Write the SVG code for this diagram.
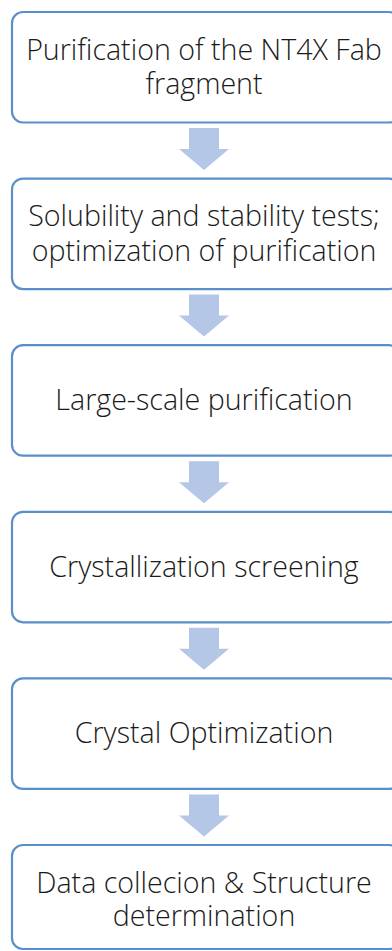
<svg xmlns="http://www.w3.org/2000/svg" width="392" height="951" viewBox="0 0 392 951">
<style>
.box{fill:#fff;stroke:#5B8FCA;stroke-width:2.2}
.t{font-family:"Open Sans","Liberation Sans",sans-serif;font-weight:300;font-size:28.6px;fill:#1a1a1a;text-anchor:middle}
.arr{fill:#B4C7E7}
</style>
<rect width="392" height="951" fill="#fff"/>
<g id="connectors">
<polygon class="arr" points="189,128 219,128 219,149 229,149 204,170 179,149 189,149"/>
<polygon class="arr" points="189,294.6 219,294.6 219,315.6 229,315.6 204,336.6 179,315.6 189,315.6"/>
<polygon class="arr" points="189,461.2 219,461.2 219,482.2 229,482.2 204,503.2 179,482.2 189,482.2"/>
<polygon class="arr" points="189,627.8 219,627.8 219,648.8 229,648.8 204,669.8 179,648.8 189,648.8"/>
<polygon class="arr" points="189,794.4 219,794.4 219,815.4 229,815.4 204,836.4 179,815.4 189,815.4"/>
</g>
<g id="n1"><rect class="box" x="12" y="12" width="388" height="110.5" rx="11"/>
<text class="t" x="204" y="59.5">Purification of the NT4X Fab</text>
<text class="t" x="204" y="94">fragment</text></g>
<g id="n2"><rect class="box" x="12" y="178.6" width="388" height="110.5" rx="11"/>
<text class="t" x="204" y="226.1">Solubility and stability tests;</text>
<text class="t" x="204" y="260.6">optimization of purification</text></g>
<g id="n3"><rect class="box" x="12" y="345.2" width="388" height="110.5" rx="11"/>
<text class="t" x="204" y="410.2">Large-scale purification</text></g>
<g id="n4"><rect class="box" x="12" y="511.8" width="388" height="110.5" rx="11"/>
<text class="t" x="204" y="576.8">Crystallization screening</text></g>
<g id="n5"><rect class="box" x="12" y="678.4" width="388" height="110.5" rx="11"/>
<text class="t" x="204" y="743.4">Crystal Optimization</text></g>
<g id="n6"><rect class="box" x="12" y="845" width="388" height="104" rx="11"/>
<text class="t" x="204" y="893">Data collecion &amp; Structure</text>
<text class="t" x="204" y="926">determination</text></g>
</svg>
